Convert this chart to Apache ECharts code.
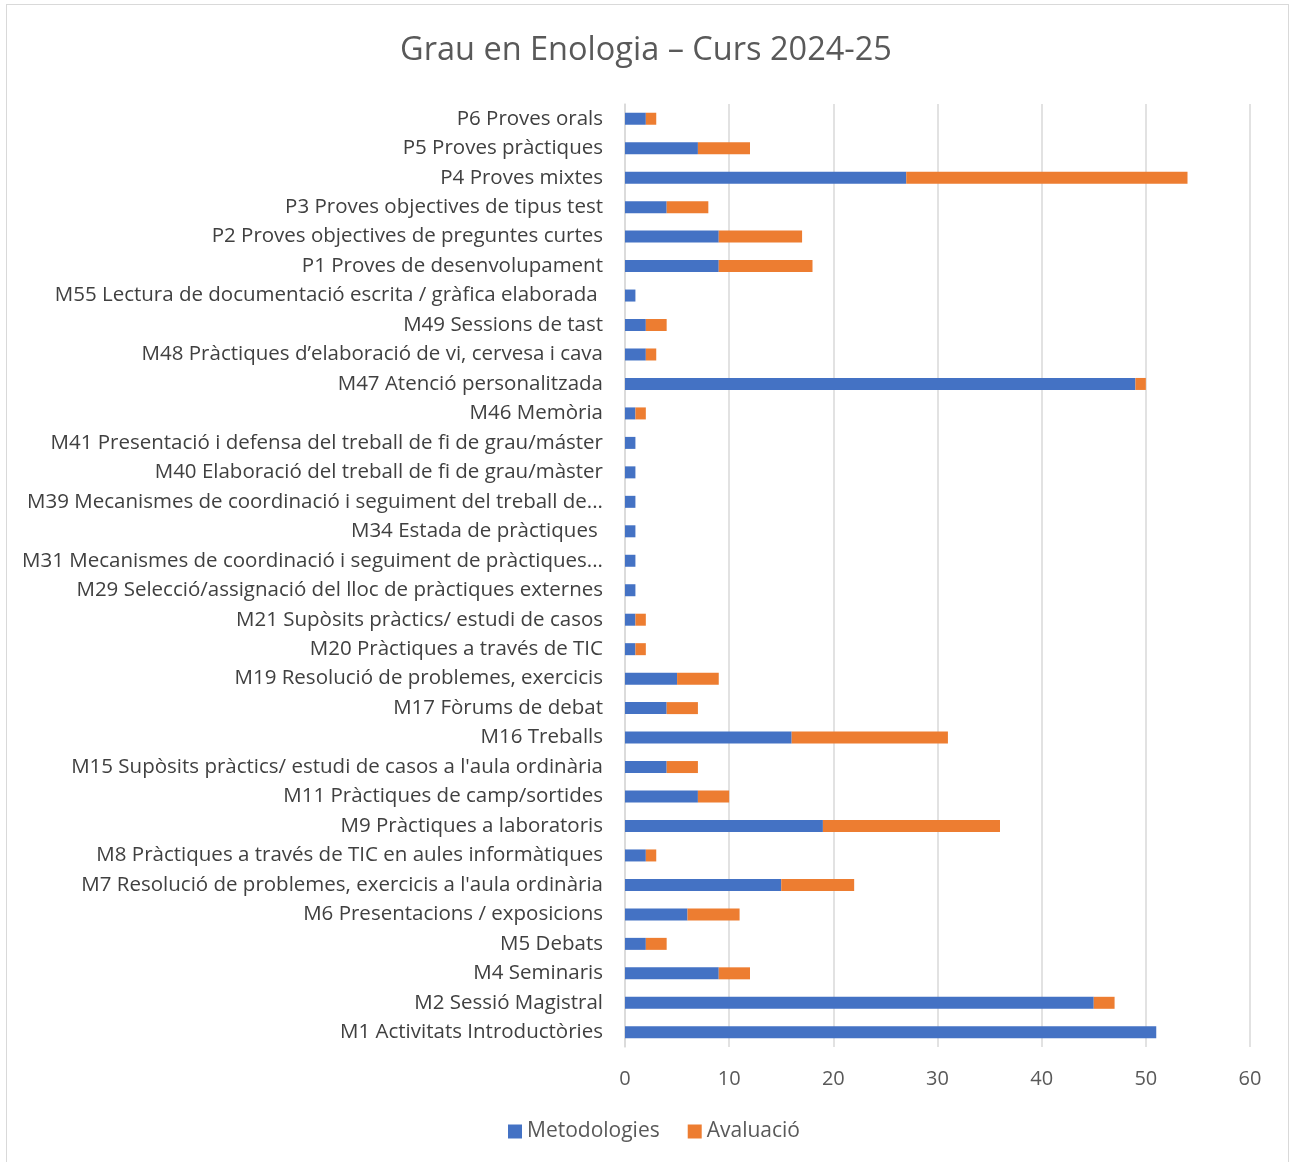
<!DOCTYPE html>
<html><head><meta charset="utf-8">
<script src="https://cdn.jsdelivr.net/npm/echarts@6/dist/echarts.min.js"></script>
<style>html,body{margin:0;padding:0;background:#fff}
#frame{position:absolute;left:6px;top:4px;width:1283px;height:1160px;border:1px solid #d9d9d9;box-sizing:border-box}
#c{position:absolute;left:0;top:0;width:1292px;height:1162px}</style>
</head><body><div id="frame"></div><div id="c"></div>
<script>
const categories = [
 "M1 Activitats Introductòries","M2 Sessió Magistral","M4 Seminaris","M5 Debats",
 "M6 Presentacions / exposicions","M7 Resolució de problemes, exercicis a l'aula ordinària",
 "M8 Pràctiques a través de TIC en aules informàtiques","M9 Pràctiques a laboratoris",
 "M11 Pràctiques de camp/sortides","M15 Supòsits pràctics/ estudi de casos a l'aula ordinària",
 "M16 Treballs","M17 Fòrums de debat","M19 Resolució de problemes, exercicis",
 "M20 Pràctiques a través de TIC","M21 Supòsits pràctics/ estudi de casos",
 "M29 Selecció/assignació del lloc de pràctiques externes",
 "M31 Mecanismes de coordinació i seguiment de pràctiques...",
 "M34 Estada de pràctiques ",
 "M39 Mecanismes de coordinació i seguiment del treball de...",
 "M40 Elaboració del treball de fi de grau/màster",
 "M41 Presentació i defensa del treball de fi de grau/máster",
 "M46 Memòria","M47 Atenció personalitzada",
 "M48 Pràctiques d’elaboració de vi, cervesa i cava","M49 Sessions de tast",
 "M55 Lectura de documentació escrita / gràfica elaborada ",
 "P1 Proves de desenvolupament","P2 Proves objectives de preguntes curtes",
 "P3 Proves objectives de tipus test","P4 Proves mixtes","P5 Proves pràctiques","P6 Proves orals"
];
const metodologies = [51,45,9,2,6,15,2,19,7,4,16,4,5,1,1,1,1,1,1,1,1,1,49,2,2,1,9,9,4,27,7,2];
const avaluacio    = [0,2,3,2,5,7,1,17,3,3,15,3,4,1,1,0,0,0,0,0,0,1,1,1,2,0,9,8,4,27,5,1];
const xTicks = [0,10,20,30,40,50,60];

const FONT = "'Open Sans', 'Noto Sans', sans-serif";
const chart = echarts.init(document.getElementById('c'), null, {renderer:'canvas'});
chart.setOption({
  animation:false,
  textStyle:{fontFamily:FONT},
  title:{text:"Grau en Enologia – Curs 2024-25",left:'center',top:29,
    textStyle:{fontFamily:FONT,fontSize:32.5,fontWeight:'normal',color:'#595959'}},
  legend:{bottom:15,left:503,itemWidth:14,itemHeight:14,itemGap:28,icon:'rect',
    textStyle:{fontFamily:FONT,fontSize:21,color:'#595959'},
    data:['Metodologies','Avaluació']},
  grid:{left:625,right:42,top:104,bottom:115,containLabel:false},
  xAxis:{type:'value',min:xTicks[0],max:xTicks[xTicks.length-1],interval:10,
    axisLine:{show:false},axisTick:{show:false},
    axisLabel:{fontFamily:FONT,fontSize:20,color:'#595959',margin:22},
    splitLine:{lineStyle:{color:'#d9d9d9',width:1.5}}},
  yAxis:{type:'category',data:categories,
    axisLine:{show:true,lineStyle:{color:'#d9d9d9',width:1.5}},axisTick:{show:false},
    axisLabel:{fontFamily:FONT,fontSize:20.5,color:'#404040',margin:22,interval:0}},
  series:[
    {name:'Metodologies',type:'bar',stack:'t',data:metodologies,barWidth:12,
     itemStyle:{color:'#4472c4'}},
    {name:'Avaluació',type:'bar',stack:'t',data:avaluacio,barWidth:12,
     itemStyle:{color:'#ed7d31'}}
  ]
});
</script></body></html>
